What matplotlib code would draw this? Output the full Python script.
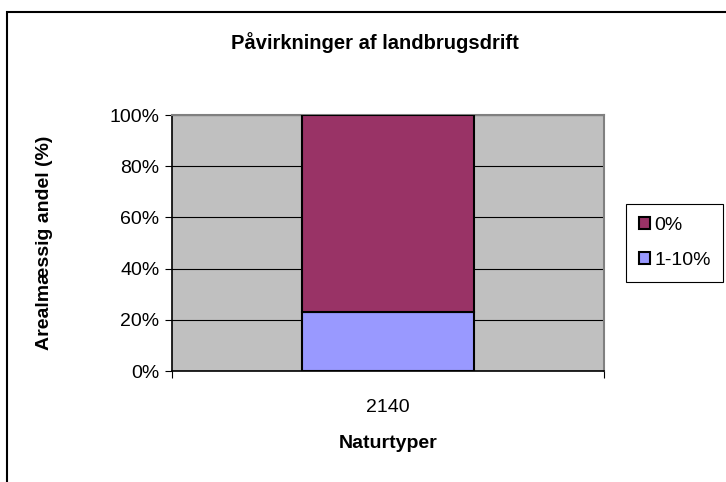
import matplotlib.pyplot as plt
from matplotlib.patches import Rectangle
from matplotlib.ticker import PercentFormatter

plt.rcParams['font.family'] = ['Liberation Sans', 'DejaVu Sans']

# data
categories = ['2140']
share_1_10 = [23]
share_0 = [77]
series_names = ['0%', '1-10%']
colors = ['#993366', '#9999FF']

W, H = 726, 482
fig = plt.figure(figsize=(W / 100, H / 100), dpi=100)

# outer chart border (only left and top are visible)
fig.add_artist(Rectangle((7 / W, -0.1), 1.2, 1 - 12 / H + 0.1, transform=fig.transFigure,
                         fill=False, edgecolor='black', linewidth=1.5))

ax = fig.add_axes([172 / W, 1 - 371 / H, (604 - 172) / W, (371 - 115) / H])
ax.set_facecolor('#C0C0C0')

x = range(len(categories))
b1 = ax.bar(x, share_1_10, width=0.4, color=colors[1], edgecolor='black', linewidth=1.5, zorder=3)
b0 = ax.bar(x, share_0, bottom=share_1_10, width=0.4, color=colors[0], edgecolor='black',
            linewidth=1.5, zorder=3)

ax.set_xlim(-0.5, 0.5)
ax.set_ylim(0, 100)
ax.set_yticks(range(0, 101, 20))
ax.yaxis.set_major_formatter(PercentFormatter(decimals=0))
ax.grid(axis='y', color='black', linewidth=0.8, zorder=1)
ax.set_xticks([-0.5, 0.5])
ax.set_xticklabels([])
ax.set_xticks([0], minor=True)
ax.set_xticklabels(categories, minor=True)
ax.tick_params(axis='x', which='minor', length=0, pad=20, labelsize=14)
ax.tick_params(axis='x', which='major', length=5, direction='out', color='black')
ax.tick_params(axis='y', length=5, direction='out', labelsize=14, pad=4)

for s in ['top', 'right']:
    ax.spines[s].set_color('#808080')
    ax.spines[s].set_linewidth(1.5)
for s in ['left', 'bottom']:
    ax.spines[s].set_color('black')
    ax.spines[s].set_linewidth(1.2)

fig.text(375 / W, 1 - 43 / H, 'Påvirkninger af landbrugsdrift', ha='center', va='center',
         fontsize=14.5, fontweight='bold')
fig.text(388 / W, 1 - 443 / H, 'Naturtyper', ha='center', va='center',
         fontsize=14, fontweight='bold')
fig.text(45 / W, 1 - 243 / H, 'Arealmæssig andel (%)', ha='center', va='center',
         rotation=90, fontsize=14, fontweight='bold')

leg = fig.legend([b0, b1], series_names, loc='upper left',
                 bbox_to_anchor=(626 / W, 1 - 204 / H), fontsize=14,
                 frameon=True, fancybox=False, edgecolor='black', framealpha=1,
                 handlelength=0.6, handleheight=0.6, handletextpad=0.2,
                 borderpad=0.65, labelspacing=0.95, borderaxespad=0)
leg.get_frame().set_linewidth(0.8)

fig.savefig('out.png', dpi=100)
